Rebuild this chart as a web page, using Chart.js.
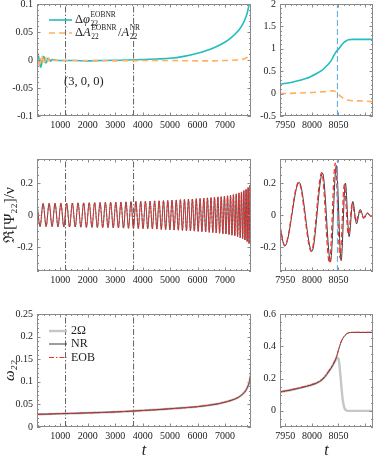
<!DOCTYPE html>
<html><head><meta charset="utf-8">
<script src="https://cdn.jsdelivr.net/npm/chart.js@4.4.1/dist/chart.umd.min.js"></script>
<style>
html,body{margin:0;padding:0;background:#fff;width:374px;height:455px;overflow:hidden;}
canvas{position:absolute;left:0;top:0;}
</style></head><body>
<canvas id="tl" width="374" height="470"></canvas>
<canvas id="tr" width="374" height="470"></canvas>
<canvas id="ml" width="374" height="470"></canvas>
<canvas id="mr" width="374" height="470"></canvas>
<canvas id="bl" width="374" height="470"></canvas>
<canvas id="br" width="374" height="470"></canvas>
<script>
// ---------- axis ranges and ticks ----------
const xRangeLeft = [150, 7950];
const xRangeRight = [7940, 8115];
const xTicksLeft = [1000, 2000, 3000, 4000, 5000, 6000, 7000];
const xTicksRight = [7950, 8000, 8050];
const yRangeTL = [-0.1, 0.1];
const yTicksTL = [-0.1, -0.05, 0, 0.05, 0.1];
const yRangeTR = [-0.5, 2];
const yTicksTR = [-0.5, 0, 0.5, 1, 1.5, 2];
const yRangeMid = [-0.35, 0.35];
const yTicksMid = [-0.2, 0, 0.2];
const yRangeBL = [0, 0.25];
const yTicksBL = [0, 0.05, 0.1, 0.15, 0.2, 0.25];
const yRangeBR = [-0.1, 0.6];
const yTicksBR = [0, 0.2, 0.4, 0.6];

// ---------- markers ----------
const windowT = [1190, 3670];
const mergerT = 8048;

// ---------- top row: phase / amplitude differences ----------
const dPhiLeftT = [150, 180, 215, 250, 290, 330, 370, 410, 450, 495, 540, 590, 640, 700, 800, 1000, 1500, 2000, 2500, 3000, 3500, 4000, 4500, 5000, 5500, 6000, 6300, 6600, 6900, 7100, 7300, 7500, 7650, 7750, 7850, 7900, 7950];
const dPhiLeftV = [0.006, 0.012, 0.004, -0.008, -0.013, -0.004, 0.006, 0.005, -0.005, -0.004, 0.003, 0.002, -0.002, 0.001, 0.0, -0.001, -0.001, -0.0015, -0.001, -0.0005, 0.0, 0.0008, 0.0018, 0.003, 0.0065, 0.012, 0.0165, 0.022, 0.029, 0.035, 0.043, 0.053, 0.064, 0.075, 0.092, 0.115, 0.23];
const dAmpLeftT = [150, 175, 205, 240, 275, 315, 355, 395, 440, 485, 530, 580, 630, 690, 760, 1000, 2000, 3000, 4000, 5000, 6000, 6500, 7000, 7400, 7700, 7850, 7950];
const dAmpLeftV = [-0.01, 0.013, 0.002, -0.012, -0.006, 0.009, 0.004, -0.007, -0.002, 0.005, -0.003, 0.003, -0.002, 0.001, -0.001, -0.001, -0.001, -0.0015, -0.001, -0.001, -0.0015, -0.0015, -0.001, 0.0, 0.002, 0.006, 0.013];
const dPhiRightT = [7940, 7965, 7990, 8009, 8020, 8028, 8036, 8041, 8046, 8050, 8055, 8060, 8065, 8069, 8077, 8085, 8100, 8115];
const dPhiRightV = [0.21, 0.26, 0.34, 0.45, 0.53, 0.62, 0.73, 0.84, 0.94, 0.99, 1.07, 1.14, 1.18, 1.2, 1.21, 1.21, 1.21, 1.21];
const dAmpRightT = [7940, 7970, 8000, 8025, 8038, 8044, 8049, 8055, 8062, 8070, 8080, 8095, 8115];
const dAmpRightV = [0.0, 0.01, 0.025, 0.045, 0.06, 0.05, 0.0, -0.07, -0.12, -0.15, -0.16, -0.165, -0.18];

// ---------- middle row: Re[Psi22]/nu, read as successive extrema ----------
const waveLeftT = [150, 262, 373, 483, 592, 700, 808, 915, 1021, 1127,
  1232, 1336, 1440, 1543, 1646, 1748, 1850, 1951, 2052, 2152,
  2251, 2350, 2448, 2546, 2642, 2738, 2834, 2929, 3023, 3117,
  3210, 3303, 3394, 3485, 3576, 3665, 3754, 3842, 3930, 4016,
  4102, 4187, 4271, 4355, 4437, 4519, 4600, 4680, 4760, 4838,
  4916, 4993, 5071, 5148, 5225, 5301, 5376, 5451, 5525, 5598,
  5671, 5743, 5814, 5885, 5955, 6025, 6094, 6162, 6230, 6297,
  6363, 6428, 6493, 6557, 6620, 6682, 6744, 6805, 6865, 6924,
  6982, 7039, 7095, 7150, 7204, 7257, 7309, 7361, 7412, 7462,
  7510, 7557, 7603, 7647, 7690, 7731, 7771, 7809, 7845, 7880,
  7915, 7949];
const waveLeftV = [0.072, -0.072, 0.072, -0.072, 0.073, -0.073, 0.073, -0.074, 0.074, -0.074,
  0.074, -0.075, 0.075, -0.075, 0.076, -0.076, 0.076, -0.077, 0.077, -0.077,
  0.078, -0.078, 0.078, -0.079, 0.079, -0.079, 0.080, -0.080, 0.080, -0.081,
  0.081, -0.082, 0.082, -0.083, 0.083, -0.083, 0.084, -0.084, 0.085, -0.085,
  0.086, -0.086, 0.087, -0.087, 0.088, -0.088, 0.089, -0.090, 0.090, -0.091,
  0.091, -0.092, 0.093, -0.094, 0.094, -0.095, 0.096, -0.096, 0.097, -0.098,
  0.099, -0.099, 0.100, -0.101, 0.102, -0.102, 0.103, -0.104, 0.105, -0.106,
  0.107, -0.108, 0.109, -0.110, 0.111, -0.112, 0.113, -0.114, 0.115, -0.117,
  0.118, -0.119, 0.120, -0.122, 0.124, -0.126, 0.128, -0.130, 0.132, -0.135,
  0.138, -0.141, 0.144, -0.148, 0.152, -0.156, 0.160, -0.165, 0.171, -0.178,
  0.186, -0.195];
const waveNRRightT = [7940, 7949, 7976, 8000, 8020, 8035, 8046, 8055, 8063, 8070, 8077, 8084, 8091, 8098, 8104.5, 8111, 8115];
const waveNRRightV = [-0.078, -0.195, 0.204, -0.227, 0.262, -0.292, 0.31, -0.285, 0.2, -0.135, 0.085, -0.055, 0.035, -0.022, 0.014, -0.009, 0.0];
const waveEOBRightT = [7940, 7949, 7975, 7999, 8018.5, 8033, 8044, 8053, 8061, 8068.5, 8076, 8083, 8090, 8097, 8104, 8111, 8115];
const waveEOBRightV = [-0.07, -0.19, 0.205, -0.228, 0.265, -0.3, 0.325, -0.27, 0.19, -0.12, 0.07, -0.04, 0.025, -0.016, 0.01, -0.006, 0.0];

// ---------- bottom row: omega22 ----------
const omegaLeftT = [150, 500, 1000, 1500, 2000, 2500, 3000, 3500, 4000, 4500, 5000, 5500, 6000, 6400, 6800, 7100, 7300, 7500, 7650, 7750, 7850, 7900, 7950];
const omegaLeftV = [0.0280, 0.0285, 0.0295, 0.0302, 0.0312, 0.0322, 0.0333, 0.0348, 0.0365, 0.0383, 0.0403, 0.0425, 0.0450, 0.0480, 0.0520, 0.0565, 0.0605, 0.0660, 0.0730, 0.0800, 0.0920, 0.1020, 0.1200];
const omegaRightT = [7940, 7963, 7990, 8009, 8020, 8028, 8036, 8044, 8048, 8052, 8056, 8060, 8065, 8069, 8077, 8085, 8100, 8115];
const omegaNRRightV = [0.117, 0.131, 0.152, 0.172, 0.195, 0.226, 0.264, 0.312, 0.352, 0.398, 0.435, 0.458, 0.476, 0.483, 0.486, 0.486, 0.486, 0.486];
const omegaEOBRightV = [0.118, 0.133, 0.155, 0.176, 0.2, 0.232, 0.27, 0.318, 0.356, 0.4, 0.436, 0.458, 0.476, 0.484, 0.487, 0.487, 0.487, 0.487];
const omega2OmRightT = [7940, 7963, 7990, 8009, 8020, 8028, 8036, 8044, 8048, 8050, 8052, 8055, 8058, 8061, 8064, 8068, 8080, 8115];
const omega2OmRightV = [0.117, 0.131, 0.152, 0.172, 0.195, 0.226, 0.264, 0.312, 0.33, 0.325, 0.28, 0.17, 0.07, 0.02, 0.004, 0, 0, 0];

// ---------- styling ----------
const SERIF = '"Liberation Serif", "Times New Roman", "DejaVu Serif", serif';
const TXT = '#222222';
const FRAME = '#8a8a8a';
const CYAN = '#22bdbd';
const ORANGE = '#ffb060';
const NRC = '#3c3c3c';
const EOBC = '#ff2a2a';
const GREY2 = '#c6c6c6';
const BLUE = '#58a6dc';

const pts = (xs, ys) => xs.map((x, i) => ({x: x, y: ys[i]}));
const vline = (t, yr) => [{x: t, y: yr[0]}, {x: t, y: yr[1]}];

const frameTicks = {
  id: 'frameTicks',
  afterDatasetsDraw(chart, args, o) {
    const ctx = chart.ctx, a = chart.chartArea, xs = chart.scales.x, ys = chart.scales.y;
    ctx.save();
    ctx.strokeStyle = FRAME; ctx.lineWidth = 1; ctx.setLineDash([]);
    ctx.beginPath();
    const doX = (step, len) => {
      for (let k = Math.ceil(xs.min / step - 1e-9); k * step <= xs.max + 1e-9; k++) {
        const p = Math.round(xs.getPixelForValue(k * step)) + 0.5;
        ctx.moveTo(p, a.bottom); ctx.lineTo(p, a.bottom - len);
        ctx.moveTo(p, a.top); ctx.lineTo(p, a.top + len);
      }
    };
    const doY = (step, len) => {
      for (let k = Math.ceil(ys.min / step - 1e-9); k * step <= ys.max + 1e-9; k++) {
        const p = Math.round(ys.getPixelForValue(k * step)) + 0.5;
        ctx.moveTo(a.left, p); ctx.lineTo(a.left + len, p);
        ctx.moveTo(a.right, p); ctx.lineTo(a.right - len, p);
      }
    };
    doX(o.xMinor, 2); doY(o.yMinor, 2);
    doX(o.xMajor, 3.5); doY(o.yMajor, 3.5);
    ctx.stroke();
    ctx.strokeRect(a.left + 0.5, a.top + 0.5, a.width - 1, a.height - 1);
    ctx.restore();
  }
};

const mathLegend = {
  id: 'mathLegend',
  afterDraw(chart, args, o) {
    const ctx = chart.ctx;
    ctx.save();
    (o.items || []).forEach(it => {
      if (it.ds !== undefined) {
        const ds = chart.data.datasets[it.ds];
        ctx.strokeStyle = ds.borderColor; ctx.lineWidth = ds.borderWidth;
        ctx.setLineDash(ds.borderDash || []);
        ctx.beginPath(); ctx.moveTo(it.x0, it.y); ctx.lineTo(it.x1, it.y); ctx.stroke();
        ctx.setLineDash([]);
      }
      let x = it.tx;
      ctx.fillStyle = TXT; ctx.textBaseline = 'middle'; ctx.textAlign = 'left';
      it.parts.forEach(p => {
        if (p.sub !== undefined || p.sup !== undefined) {
          ctx.font = (o.script || 7.5) + 'px ' + SERIF;
          let w = 0;
          if (p.sup) { ctx.fillText(p.sup, x, it.y - 4.5); w = Math.max(w, ctx.measureText(p.sup).width); }
          if (p.sub) { ctx.fillText(p.sub, x, it.y + 4); w = Math.max(w, ctx.measureText(p.sub).width); }
          x += w + 1.5;
        } else {
          ctx.font = (p.italic ? 'italic ' : '') + (o.size || 12) + 'px ' + SERIF;
          ctx.fillText(p.t, x, it.y);
          x += ctx.measureText(p.t).width + (p.gap || 0);
        }
      });
    });
    ctx.restore();
  }
};

function panel(id, c) {
  return new Chart(document.getElementById(id), {
    type: 'line',
    data: { datasets: c.datasets },
    options: {
      responsive: false,
      animation: false,
      events: [],
      layout: { padding: c.pad },
      elements: { point: { radius: 0 } },
      plugins: {
        legend: { display: false },
        tooltip: { enabled: false },
        frameTicks: c.frame,
        mathLegend: c.legend || { items: [] }
      },
      scales: {
        x: {
          type: 'linear', min: c.xr[0], max: c.xr[1],
          grid: { display: false, drawTicks: false }, border: { display: false },
          ticks: { padding: 3, color: TXT, font: { family: SERIF, size: 10 }, maxRotation: 0, autoSkip: false, callback: v => String(v) },
          afterBuildTicks: s => { s.ticks = c.xt.map(v => ({ value: v })); },
          afterFit: s => { s.height = c.xh; s.paddingLeft = 0; s.paddingRight = 0; },
          title: c.xtitle ? { display: true, text: c.xtitle, color: TXT, font: { family: SERIF, size: 16, style: 'italic', lineHeight: 1 }, padding: { top: 0, bottom: 0 } } : { display: false }
        },
        y: {
          type: 'linear', min: c.yr[0], max: c.yr[1],
          grid: { display: false, drawTicks: false }, border: { display: false },
          ticks: { padding: 4, color: TXT, font: { family: SERIF, size: 10 }, autoSkip: false, callback: v => String(v) },
          afterBuildTicks: s => { s.ticks = c.yt.map(v => ({ value: v })); },
          afterFit: s => { s.width = c.yw; s.paddingTop = 0; s.paddingBottom = 0; },
          title: c.ytitle ? { display: true, text: c.ytitle.text, color: TXT, font: { family: SERIF, size: c.ytitle.size, style: c.ytitle.style || 'normal', lineHeight: 1.2 }, padding: { top: 1, bottom: 0 } } : { display: false }
        }
      }
    },
    plugins: [frameTicks, mathLegend]
  });
}

const marker = (t, yr) => ({ data: vline(t, yr), borderColor: '#3a3a3a', borderWidth: 0.8, borderDash: [6, 2, 1.5, 2], tension: 0 });
const blueMarker = (yr) => ({ data: vline(mergerT, yr), borderColor: BLUE, borderWidth: 1, borderDash: [6, 3], tension: 0 });
const curve = (xs, ys, color, width, dash) => ({ data: pts(xs, ys), borderColor: color, borderWidth: width, borderDash: dash || [], cubicInterpolationMode: 'monotone' });

const padTopLeft = { left: 0, top: 4, right: 123, bottom: 334 };
const padTopRight = { left: 258, top: 4, right: 1, bottom: 334 };
const padMidLeft = { left: 0, top: 159, right: 123, bottom: 179 };
const padMidRight = { left: 258, top: 159, right: 1, bottom: 179 };
const padBotLeft = { left: 0, top: 314, right: 123, bottom: 11 };
const padBotRight = { left: 258, top: 314, right: 1, bottom: 11 };

// Top left
panel('tl', {
  pad: padTopLeft, xr: xRangeLeft, xt: xTicksLeft, yr: yRangeTL, yt: yTicksTL, xh: 20, yw: 37,
  frame: { xMajor: 1000, xMinor: 200, yMajor: 0.05, yMinor: 0.01 },
  datasets: [
    curve(dAmpLeftT, dAmpLeftV, ORANGE, 1.6, [6, 4]),
    curve(dPhiLeftT, dPhiLeftV, CYAN, 1.6),
    marker(windowT[0], yRangeTL),
    marker(windowT[1], yRangeTL)
  ],
  legend: { size: 12.5, script: 7.5, items: [
    { ds: 1, x0: 49, x1: 72, y: 20, tx: 75, parts: [{ t: 'Δ' }, { t: 'φ', italic: true, gap: 0.5 }, { sub: '22', sup: 'EOBNR' }] },
    { ds: 0, x0: 49, x1: 72, y: 33, tx: 75, parts: [{ t: 'Δ' }, { t: 'A', italic: true, gap: 0.5 }, { sub: '22', sup: 'EOBNR' }, { t: '/' }, { t: 'A', italic: true, gap: 0.5 }, { sub: '22', sup: 'NR' }] },
    { x0: 0, x1: 0, y: 82, tx: 64, parts: [{ t: '(3, 0, 0)' }] }
  ] }
});

// Top right
panel('tr', {
  pad: padTopRight, xr: xRangeRight, xt: xTicksRight, yr: yRangeTR, yt: yTicksTR, xh: 20, yw: 22,
  frame: { xMajor: 50, xMinor: 10, yMajor: 0.5, yMinor: 0.1 },
  datasets: [
    blueMarker(yRangeTR),
    curve(dAmpRightT, dAmpRightV, ORANGE, 1.6, [6, 4]),
    curve(dPhiRightT, dPhiRightV, CYAN, 1.6)
  ]
});

// Middle left
panel('ml', {
  pad: padMidLeft, xr: xRangeLeft, xt: xTicksLeft, yr: yRangeMid, yt: yTicksMid, xh: 20, yw: 37,
  ytitle: { text: 'ℜ[Ψ₂₂]/ν', size: 15 },
  frame: { xMajor: 1000, xMinor: 200, yMajor: 0.2, yMinor: 0.05 },
  datasets: [
    curve(waveLeftT, waveLeftV, EOBC, 0.9, [3, 1.5]),
    curve(waveLeftT, waveLeftV, NRC, 0.9),
    marker(windowT[0], yRangeMid),
    marker(windowT[1], yRangeMid)
  ]
});

// Middle right
panel('mr', {
  pad: padMidRight, xr: xRangeRight, xt: xTicksRight, yr: yRangeMid, yt: yTicksMid, xh: 20, yw: 22,
  frame: { xMajor: 50, xMinor: 10, yMajor: 0.2, yMinor: 0.05 },
  datasets: [
    blueMarker(yRangeMid),
    curve(waveEOBRightT, waveEOBRightV, EOBC, 1.2, [5, 3]),
    curve(waveNRRightT, waveNRRightV, NRC, 1)
  ]
});

// Bottom left
panel('bl', {
  pad: padBotLeft, xr: xRangeLeft, xt: xTicksLeft, yr: yRangeBL, yt: yTicksBL, xh: 32, yw: 37,
  xtitle: 't', ytitle: { text: 'ω₂₂', size: 15, style: 'italic' },
  frame: { xMajor: 1000, xMinor: 200, yMajor: 0.05, yMinor: 0.01 },
  datasets: [
    curve(omegaLeftT, omegaLeftV, EOBC, 1, [5, 2, 1.5, 2]),
    curve(omegaLeftT, omegaLeftV, NRC, 1),
    curve(omegaLeftT, omegaLeftV, GREY2, 2.4),
    marker(windowT[0], yRangeBL),
    marker(windowT[1], yRangeBL)
  ],
  legend: { size: 12, items: [
    { ds: 2, x0: 49, x1: 67, y: 331, tx: 71, parts: [{ t: '2Ω' }] },
    { ds: 1, x0: 49, x1: 67, y: 344, tx: 71, parts: [{ t: 'NR' }] },
    { ds: 0, x0: 49, x1: 67, y: 357.5, tx: 71, parts: [{ t: 'EOB' }] }
  ] }
});

// Bottom right
panel('br', {
  pad: padBotRight, xr: xRangeRight, xt: xTicksRight, yr: yRangeBR, yt: yTicksBR, xh: 32, yw: 22,
  xtitle: 't',
  frame: { xMajor: 50, xMinor: 10, yMajor: 0.2, yMinor: 0.05 },
  datasets: [
    curve(omegaRightT, omegaEOBRightV, EOBC, 1, [5, 2, 1.5, 2]),
    curve(omegaRightT, omegaNRRightV, NRC, 1),
    curve(omega2OmRightT, omega2OmRightV, GREY2, 2.4)
  ]
});
</script>
</body></html>
